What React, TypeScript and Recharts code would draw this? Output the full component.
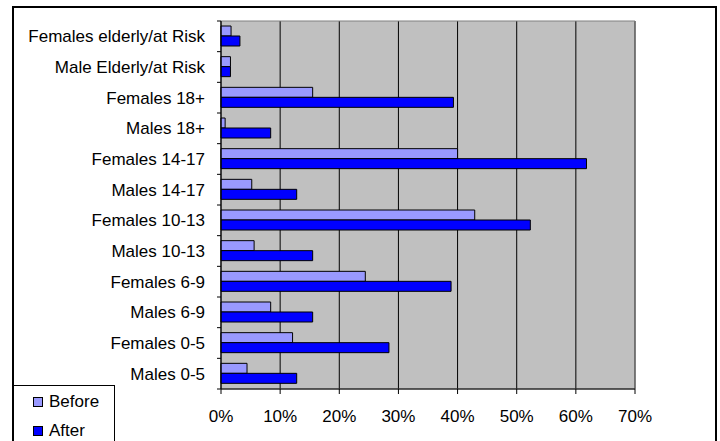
import React from 'react';
import { BarChart, Bar, XAxis, YAxis, CartesianGrid, Legend, ReferenceArea } from 'recharts';

const categories = [
  'Females elderly/at Risk',
  'Male Elderly/at Risk',
  'Females 18+',
  'Males 18+',
  'Females 14-17',
  'Males 14-17',
  'Females 10-13',
  'Males 10-13',
  'Females 6-9',
  'Males 6-9',
  'Females 0-5',
  'Males 0-5',
];
const beforeValues = [1.7, 1.6, 15.5, 0.7, 40.0, 5.2, 42.9, 5.6, 24.4, 8.4, 12.1, 4.4];
const afterValues = [3.2, 1.6, 39.3, 8.4, 61.8, 12.8, 52.3, 15.5, 38.9, 15.5, 28.4, 12.8];
const xTicks = [0, 10, 20, 30, 40, 50, 60, 70];
const seriesNames = ['Before', 'After'];

const data = categories.map((c, i) => ({
  name: c,
  before: beforeValues[i],
  after: afterValues[i],
}));

const W = 720;
const H = 441;
const MARGIN = { top: 21, right: 85, bottom: 0, left: 0 };
const X_AXIS_H = 52;
const Y_AXIS_W = 221;
const PLOT_H = H - MARGIN.top - MARGIN.bottom - X_AXIS_H;
const FONT = '"Liberation Sans", Arial, sans-serif';

const YTick = (props: any) => {
  const { x, y, payload } = props;
  const band = PLOT_H / categories.length;
  const isLast = payload.value === categories[categories.length - 1];
  return (
    <g>
      <line x1={x - 4} x2={x} y1={y - band / 2} y2={y - band / 2} stroke="#000" />
      {isLast && <line x1={x - 4} x2={x} y1={y + band / 2} y2={y + band / 2} stroke="#000" />}
      <text x={x - 16} y={y} dy="0.355em" textAnchor="end" fontSize={17} fill="#000" fontFamily={FONT}>
        {payload.value}
      </text>
    </g>
  );
};

const renderLegend = (props: any) => {
  const payload = [...(props.payload || [])].sort(
    (a: any, b: any) => seriesNames.indexOf(a.value) - seriesNames.indexOf(b.value)
  );
  return (
    <div
      style={{
        border: '1px solid #000',
        borderBottom: 'none',
        width: 102,
        height: 70,
        boxSizing: 'border-box',
        background: '#fff',
        paddingTop: 1,
        paddingLeft: 19,
        fontFamily: FONT,
        fontSize: 17,
        color: '#000',
      }}
    >
      {payload.map((p: any) => (
        <div key={p.value} style={{ display: 'flex', alignItems: 'center', height: 29 }}>
          <span
            style={{
              display: 'inline-block',
              width: 10,
              height: 10,
              boxSizing: 'border-box',
              background: p.color,
              border: '1px solid #000',
              marginRight: 6,
            }}
          />
          <span>{p.value}</span>
        </div>
      ))}
    </div>
  );
};

export default function App() {
  return (
    <div
      style={{
        position: 'absolute',
        left: 0,
        top: 0,
        width: W,
        height: H,
        overflow: 'hidden',
        background: '#fff',
        fontFamily: FONT,
      }}
    >
      <div
        style={{
          position: 'absolute',
          left: 12,
          top: 6,
          width: 705,
          height: 480,
          boxSizing: 'border-box',
          border: '2px solid #000',
        }}
      />
      <div style={{ position: 'absolute', left: 0, top: 0 }}>
        <BarChart width={W} height={H} data={data} layout="vertical" margin={MARGIN} barGap={0}>
          <CartesianGrid horizontal={false} vertical={true} fill="#C0C0C0" stroke="#000" fillOpacity={1} />
          <ReferenceArea x1={0} x2={70} fill="none" stroke="#808080" strokeWidth={1} ifOverflow="visible" />
          <XAxis
            type="number"
            domain={[0, 70]}
            ticks={xTicks}
            interval={0}
            tickFormatter={(v: number) => `${v}%`}
            height={X_AXIS_H}
            tickSize={5}
            tickMargin={16}
            axisLine={{ stroke: '#000' }}
            tickLine={{ stroke: '#000' }}
            tick={{ fill: '#000', fontSize: 17, fontFamily: FONT }}
          />
          <YAxis
            type="category"
            dataKey="name"
            width={Y_AXIS_W}
            interval={0}
            tickSize={0}
            tickMargin={0}
            tickLine={false}
            axisLine={{ stroke: '#000' }}
            tick={<YTick />}
          />
          <Legend
            layout="vertical"
            align="center"
            verticalAlign="middle"
            content={renderLegend}
            wrapperStyle={{ left: 13, top: 385, width: 102, height: 70 }}
          />
          <Bar
            dataKey="before"
            name={seriesNames[0]}
            fill="#9999FF"
            stroke="#000"
            strokeWidth={1}
            barSize={10}
            isAnimationActive={false}
          />
          <Bar
            dataKey="after"
            name={seriesNames[1]}
            fill="#0000FF"
            stroke="#000"
            strokeWidth={1}
            barSize={10}
            isAnimationActive={false}
          />
        </BarChart>
      </div>
    </div>
  );
}
